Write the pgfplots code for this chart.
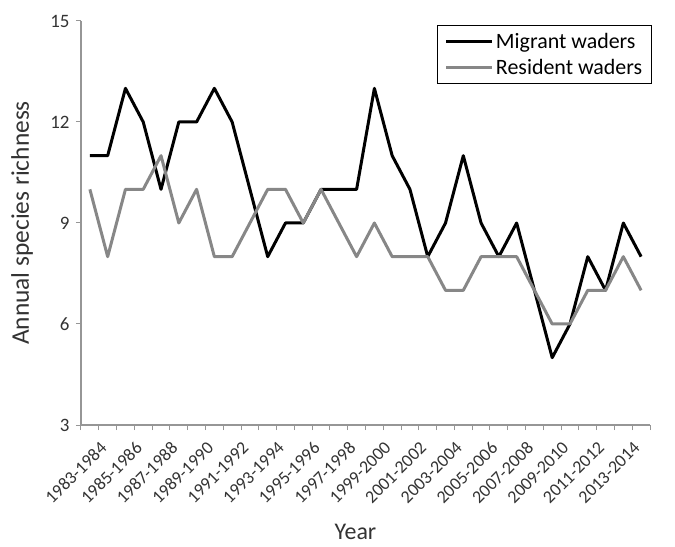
\documentclass[border=0pt]{standalone}
\usepackage{pgfplots}
\pgfplotsset{compat=1.18}
\usepackage{pgfplotstable}
\usepackage{fontspec}
\setmainfont{Carlito}
\definecolor{axgray}{RGB}{150,150,150}
\definecolor{resgray}{RGB}{135,135,135}
\pgfplotstableread{
i mig res
0 11 10
1 11 8
2 13 10
3 12 10
4 10 11
5 12 9
6 12 10
7 13 8
8 12 8
9 10 9
10 8 10
11 9 10
12 9 9
13 10 10
14 10 9
15 10 8
16 13 9
17 11 8
18 10 8
19 8 8
20 9 7
21 11 7
22 9 8
23 8 8
24 9 8
25 7 7
26 5 6
27 6 6
28 8 7
29 7 7
30 9 8
31 8 7
}\datatable
\begin{document}
\begin{tikzpicture}
\useasboundingbox (-81bp,-122bp) rectangle (594bp,425bp);
\begin{axis}[
  at={(0,0)}, anchor=south west,
  scale only axis, width=569bp, height=404bp,
  xmin=-0.5, xmax=31.5, ymin=3, ymax=15,
  axis lines*=left,
  axis line style={axgray, line width=1.2bp},
  ytick={3,6,9,12,15},
  xtick={0,2,...,30},
  xticklabels={1983-1984,1985-1986,1987-1988,1989-1990,1991-1992,1993-1994,1995-1996,1997-1998,1999-2000,2001-2002,2003-2004,2005-2006,2007-2008,2009-2010,2011-2012,2013-2014},
  minor xtick={-0.5,0.5,...,31.5},
  tick align=outside,
  major tick length=5bp, minor tick length=5bp,
  major x tick style={draw=none},
  minor x tick style={draw=axgray, line width=1bp},
  ytick style={draw=axgray, line width=1bp},
  /pgf/number format/assume math mode=true,
  tick label style={font=\fontsize{19}{22}\selectfont, text=black!80},
  x tick label style={font=\fontsize{18}{21}\selectfont, rotate=45, anchor=north east, inner sep=2bp, xshift=1bp, yshift=-12bp},
  y tick label style={xshift=-3bp},
  xlabel={Year}, ylabel={Annual species richness},
  every axis x label/.style={at={(axis description cs:0.5,0)}, yshift=-107bp, xshift=-10bp, anchor=center, font=\fontsize{24}{28}\selectfont, text=black!80},
  every axis y label/.style={at={(axis description cs:0,0.5)}, xshift=-59bp, rotate=90, anchor=center, font=\fontsize{25.5}{28}\selectfont, text=black!80},
  legend style={at={(rel axis cs:1.003,0.989)}, anchor=north east, draw=black, line width=1bp,
    font=\fontsize{22}{25}\selectfont, row sep=6bp, inner xsep=7bp, inner ysep=5bp, cells={anchor=west}},
  legend cell align=left,
  legend image code/.code={\draw[#1, line width=3bp] (0bp,0bp) -- (46bp,0bp);},
]
\addplot[black, line width=3bp, line join=round] table[x=i, y=mig] {\datatable};
\addlegendentry{Migrant waders}
\addplot[resgray, line width=3bp, line join=round] table[x=i, y=res] {\datatable};
\addlegendentry{Resident waders}
\end{axis}
\end{tikzpicture}
\end{document}
